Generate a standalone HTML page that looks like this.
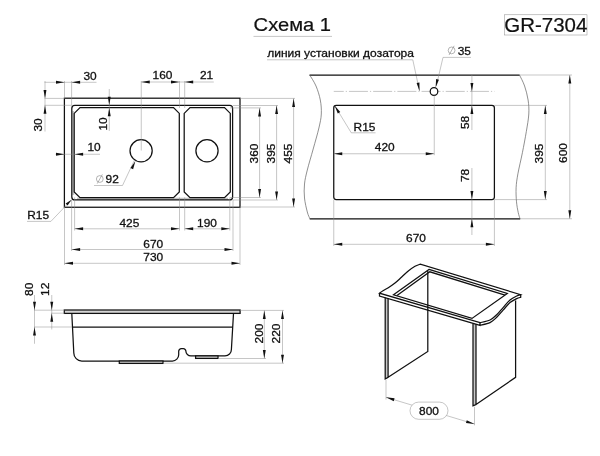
<!DOCTYPE html>
<html><head><meta charset="utf-8"><title>GR-7304</title>
<style>
html,body{margin:0;padding:0;background:#fff;}
svg{display:block;filter:grayscale(1)}
text{font-family:"Liberation Sans",sans-serif;fill:#111;}
text{stroke:#111;stroke-width:0.2px;}
text.s{stroke:#111;stroke-width:0.3px;}
.t{stroke:#8c8c8c;stroke-width:0.5;}
.t2{stroke:#777;stroke-width:0.55;fill:none}
.t3{stroke:#606060;stroke-width:0.7;}
.k{stroke:#111;stroke-width:1.25;}
.a{fill:#111;stroke:none}
</style></head><body>
<svg width="600" height="456" viewBox="0 0 600 456">
<rect width="600" height="456" fill="#fff"/>
<text font-size="19.2" text-anchor="start" transform="translate(253.6 31.4) scale(1.05 1)">Схема 1</text>
<line class="t" x1="253.5" y1="36.4" x2="332" y2="36.4"/>
<rect class="t" x="504.4" y="14.8" width="82.6" height="20.2" fill="none"/>
<text font-size="19.5" text-anchor="start" transform="translate(504.3 31.6) scale(1.05 1)">GR-7304</text>
<text class="s" font-size="11.3" text-anchor="start" transform="translate(267.2 56.5) scale(1.065 1)">линия установки дозатора</text>
<line class="t" x1="267" y1="59.8" x2="412.8" y2="59.8"/>
<line class="t" x1="412.8" y1="59.8" x2="419.5" y2="91"/>
<polygon class="a" points="419.50,91.00 416.60,82.88 419.45,82.38"/>
<rect x="72.3" y="111" width="1.9" height="84" fill="#c4c4c4"/>
<rect x="77" y="197.7" width="151" height="2.2" fill="#c4c4c4"/>
<rect class="k" x="64.4" y="98.2" width="175.6" height="109.05" fill="none"/>
<rect class="k" stroke-width="1.25" x="71.8" y="105.4" width="160.8" height="94.5" rx="3" fill="none"/>
<path class="k" stroke-width="1.1" fill="none" d="M80.0,107.6 L173.5,107.6 L179.3,113.39999999999999 L179.3,191.89999999999998 L173.5,197.7 L80.0,197.7 L74.2,191.89999999999998 L74.2,113.39999999999999 Z"/>
<path class="k" stroke-width="1.1" fill="none" d="M190.0,107.6 L224.5,107.6 L230.3,113.39999999999999 L230.3,191.89999999999998 L224.5,197.7 L190.0,197.7 L184.2,191.89999999999998 L184.2,113.39999999999999 Z"/>
<circle class="k" cx="141.1" cy="150.8" r="11.1" fill="none"/>
<circle class="k" cx="207" cy="150.8" r="11.1" fill="none"/>
<line class="t" x1="44.5" y1="82.3" x2="96.5" y2="82.3"/>
<line class="t" x1="64.5" y1="81" x2="64.5" y2="98.4"/>
<line class="t" x1="71.6" y1="81" x2="71.6" y2="105.3"/>
<polygon class="a" points="64.50,82.30 56.00,83.75 56.00,80.85"/>
<polygon class="a" points="71.60,82.30 80.10,80.85 80.10,83.75"/>
<text class="s" font-size="11.3" text-anchor="middle" transform="translate(90 79.8) scale(1.055 1)">30</text>
<line class="t" x1="141.25" y1="82" x2="213.75" y2="82"/>
<line class="t" x1="141.25" y1="81" x2="141.25" y2="150.5"/>
<line class="t" x1="179.5" y1="81" x2="179.5" y2="108"/>
<line class="t" x1="184.7" y1="81" x2="184.7" y2="108"/>
<polygon class="a" points="141.25,82.00 149.75,80.55 149.75,83.45"/>
<polygon class="a" points="179.50,82.00 171.00,83.45 171.00,80.55"/>
<polygon class="a" points="184.70,82.00 193.20,80.55 193.20,83.45"/>
<text class="s" font-size="11.3" text-anchor="middle" transform="translate(162.5 79.3) scale(1.055 1)">160</text>
<text class="s" font-size="11.3" text-anchor="middle" transform="translate(206.5 79.3) scale(1.055 1)">21</text>
<line class="t" x1="45" y1="81" x2="45" y2="131.5"/>
<line class="t" x1="44.5" y1="98.4" x2="64.5" y2="98.4"/>
<line class="t" x1="44.5" y1="105.3" x2="72" y2="105.3"/>
<polygon class="a" points="45.00,98.40 43.55,89.90 46.45,89.90"/>
<polygon class="a" points="45.00,105.30 46.45,113.80 43.55,113.80"/>
<text class="s" font-size="11.3" text-anchor="middle" transform="translate(41.5 125) rotate(-90) scale(1.055 1)">30</text>
<line class="t" x1="109.25" y1="89" x2="109.25" y2="131"/>
<polygon class="a" points="109.25,105.30 107.80,96.80 110.70,96.80"/>
<polygon class="a" points="109.25,107.80 110.70,116.30 107.80,116.30"/>
<text class="s" font-size="11.3" text-anchor="middle" transform="translate(107 124) rotate(-90) scale(1.055 1)">10</text>
<line class="t" x1="55.5" y1="154.25" x2="100" y2="154.25"/>
<polygon class="a" points="64.50,154.25 56.00,155.70 56.00,152.80"/>
<polygon class="a" points="74.60,154.25 83.10,152.80 83.10,155.70"/>
<text class="s" font-size="11.3" text-anchor="middle" transform="translate(94 151.3) scale(1.055 1)">10</text>
<line class="t" x1="94" y1="185.5" x2="122.5" y2="185.5"/>
<line class="t" x1="122.5" y1="185.5" x2="134.5" y2="160"/>
<polygon class="a" points="135.40,160.90 133.12,169.22 130.49,167.99"/>
<circle class="t2" cx="99.8" cy="179" r="3.4"/>
<line class="t2" x1="97.25" y1="183.59" x2="102.35" y2="174.41"/>
<text class="s" font-size="11.3" text-anchor="middle" transform="translate(112.2 182.9) scale(1.055 1)">92</text>
<text class="s" font-size="11.3" text-anchor="middle" transform="translate(38.1 219.0) scale(1.055 1)">R15</text>
<line class="t" x1="27" y1="221.4" x2="50.9" y2="221.4"/>
<line class="t" x1="50.9" y1="221.4" x2="67.3" y2="204.2"/>
<polygon class="a" points="71.90,199.40 67.51,205.51 65.64,203.57"/>
<line class="t" x1="74.6" y1="197.4" x2="74.6" y2="230.5"/>
<line class="t" x1="179.5" y1="197.4" x2="179.5" y2="230.5"/>
<line class="t" x1="184.7" y1="197.4" x2="184.7" y2="230.5"/>
<line class="t" x1="229.8" y1="197.4" x2="229.8" y2="230.5"/>
<line class="t" x1="74.6" y1="228.8" x2="179.5" y2="228.8"/>
<polygon class="a" points="74.60,228.80 83.10,227.35 83.10,230.25"/>
<polygon class="a" points="179.50,228.80 171.00,230.25 171.00,227.35"/>
<line class="t" x1="184.7" y1="228.8" x2="229.8" y2="228.8"/>
<polygon class="a" points="184.70,228.80 193.20,227.35 193.20,230.25"/>
<polygon class="a" points="229.80,228.80 221.30,230.25 221.30,227.35"/>
<text class="s" font-size="11.3" text-anchor="middle" transform="translate(129.4 227.0) scale(1.055 1)">425</text>
<text class="s" font-size="11.3" text-anchor="middle" transform="translate(207 227.0) scale(1.055 1)">190</text>
<line class="t" x1="71.6" y1="200" x2="71.6" y2="251"/>
<line class="t" x1="233" y1="200" x2="233" y2="251"/>
<line class="t" x1="71.6" y1="249.5" x2="233" y2="249.5"/>
<polygon class="a" points="71.60,249.50 80.10,248.05 80.10,250.95"/>
<polygon class="a" points="233.00,249.50 224.50,250.95 224.50,248.05"/>
<text class="s" font-size="11.3" text-anchor="middle" transform="translate(153.3 247.8) scale(1.055 1)">670</text>
<line class="t" x1="64.5" y1="207" x2="64.5" y2="265"/>
<line class="t" x1="240" y1="207" x2="240" y2="265"/>
<line class="t" x1="64.5" y1="263.3" x2="240" y2="263.3"/>
<polygon class="a" points="64.50,263.30 73.00,261.85 73.00,264.75"/>
<polygon class="a" points="240.00,263.30 231.50,264.75 231.50,261.85"/>
<text class="s" font-size="11.3" text-anchor="middle" transform="translate(153.3 261.0) scale(1.055 1)">730</text>
<line class="t" x1="240" y1="98.4" x2="295" y2="98.4"/>
<line class="t" x1="240" y1="207" x2="295" y2="207"/>
<line class="t" x1="293.6" y1="98.4" x2="293.6" y2="207"/>
<polygon class="a" points="293.60,98.40 295.05,106.90 292.15,106.90"/>
<polygon class="a" points="293.60,207.00 292.15,198.50 295.05,198.50"/>
<text class="s" font-size="11.3" text-anchor="middle" transform="translate(291.5 153.5) rotate(-90) scale(1.055 1)">455</text>
<line class="t" x1="233" y1="105.5" x2="278" y2="105.5"/>
<line class="t" x1="233" y1="200" x2="278" y2="200"/>
<line class="t" x1="276.6" y1="105.5" x2="276.6" y2="200"/>
<polygon class="a" points="276.60,105.50 278.05,114.00 275.15,114.00"/>
<polygon class="a" points="276.60,200.00 275.15,191.50 278.05,191.50"/>
<text class="s" font-size="11.3" text-anchor="middle" transform="translate(274.5 153.5) rotate(-90) scale(1.055 1)">395</text>
<line class="t" x1="230" y1="107.9" x2="261" y2="107.9"/>
<line class="t" x1="230" y1="197.5" x2="261" y2="197.5"/>
<line class="t" x1="259.6" y1="107.9" x2="259.6" y2="197.5"/>
<polygon class="a" points="259.60,107.90 261.05,116.40 258.15,116.40"/>
<polygon class="a" points="259.60,197.50 258.15,189.00 261.05,189.00"/>
<text class="s" font-size="11.3" text-anchor="middle" transform="translate(258 153.5) rotate(-90) scale(1.055 1)">360</text>
<line class="k" x1="309.5" y1="75" x2="519.7" y2="75"/>
<line class="k" x1="309.7" y1="218.75" x2="520.2" y2="218.75"/>
<path class="t3" fill="none" d="M309.70,75.00 C310.75,76.83 314.23,81.83 316.00,86.00 C317.77,90.17 319.42,95.33 320.30,100.00 C321.18,104.67 321.53,109.33 321.30,114.00 C321.07,118.67 320.25,122.17 318.90,128.00 C317.55,133.83 315.13,142.00 313.20,149.00 C311.27,156.00 308.75,164.17 307.30,170.00 C305.85,175.83 304.97,179.33 304.50,184.00 C304.03,188.67 304.03,193.33 304.50,198.00 C304.97,202.67 306.40,208.54 307.30,212.00 C308.20,215.46 309.47,217.62 309.90,218.75"/>
<path class="t3" fill="none" d="M519.50,75.00 C520.35,76.83 523.17,81.83 524.60,86.00 C526.03,90.17 527.40,95.33 528.10,100.00 C528.80,104.67 529.10,108.72 528.80,114.00 C528.50,119.28 527.37,125.25 526.30,131.70 C525.23,138.15 523.80,145.68 522.40,152.70 C521.00,159.72 518.95,167.95 517.90,173.80 C516.85,179.65 516.33,183.13 516.10,187.80 C515.87,192.47 516.15,197.70 516.50,201.80 C516.85,205.90 517.62,209.58 518.20,212.40 C518.78,215.22 519.70,217.69 520.00,218.75"/>
<rect class="k" x="333.75" y="105.4" width="160.65" height="94.2" rx="2.5" fill="none"/>
<line class="t" stroke-dasharray="19 2 1.2 2" stroke-dashoffset="9" x1="333.75" y1="91.4" x2="494.5" y2="91.4"/>
<circle class="k" cx="434" cy="91.5" r="3.8" fill="#fff"/>
<line class="t" x1="443" y1="57.4" x2="471" y2="57.4"/>
<line class="t" x1="443" y1="57.4" x2="436.3" y2="86"/>
<polygon class="a" points="435.60,87.60 436.10,78.99 438.92,79.64"/>
<circle class="t2" cx="451.6" cy="50.4" r="3.4"/>
<line class="t2" x1="449.05" y1="54.989999999999995" x2="454.15000000000003" y2="45.81"/>
<text class="s" font-size="11.3" text-anchor="middle" transform="translate(464.3 55.1) scale(1.055 1)">35</text>
<line class="t" x1="351.25" y1="132.8" x2="375.5" y2="132.8"/>
<line class="t" x1="351.25" y1="132.8" x2="335.3" y2="106.6"/>
<polygon class="a" points="334.60,105.60 340.25,112.11 337.78,113.62"/>
<text class="s" font-size="11.3" text-anchor="middle" transform="translate(364.5 131.05) scale(1.055 1)">R15</text>
<line class="t" x1="333.75" y1="153.75" x2="434.25" y2="153.75"/>
<polygon class="a" points="333.75,153.75 342.25,152.30 342.25,155.20"/>
<polygon class="a" points="434.25,153.75 425.75,155.20 425.75,152.30"/>
<line class="t" x1="434.25" y1="95.5" x2="434.25" y2="155.2"/>
<text class="s" font-size="11.3" text-anchor="middle" transform="translate(384.75 151.05) scale(1.055 1)">420</text>
<line class="t" x1="471.9" y1="75" x2="471.9" y2="130"/>
<polygon class="a" points="471.90,91.40 470.45,82.90 473.35,82.90"/>
<polygon class="a" points="471.90,105.40 473.35,113.90 470.45,113.90"/>
<text class="s" font-size="11.3" text-anchor="middle" transform="translate(469 122.4) rotate(-90) scale(1.055 1)">58</text>
<line class="t" x1="471.9" y1="168" x2="471.9" y2="235"/>
<polygon class="a" points="471.90,199.60 470.45,191.10 473.35,191.10"/>
<polygon class="a" points="471.90,218.75 473.35,227.25 470.45,227.25"/>
<text class="s" font-size="11.3" text-anchor="middle" transform="translate(469 175.5) rotate(-90) scale(1.055 1)">78</text>
<line class="t" x1="494.4" y1="105.4" x2="547" y2="105.4"/>
<line class="t" x1="494.4" y1="199.6" x2="547" y2="199.6"/>
<line class="t" x1="545.3" y1="105.4" x2="545.3" y2="199.6"/>
<polygon class="a" points="545.30,105.40 546.75,113.90 543.85,113.90"/>
<polygon class="a" points="545.30,199.60 543.85,191.10 546.75,191.10"/>
<text class="s" font-size="11.3" text-anchor="middle" transform="translate(542.8 153.5) rotate(-90) scale(1.055 1)">395</text>
<line class="t" x1="520" y1="75" x2="572" y2="75"/>
<line class="t" x1="520" y1="218.75" x2="572" y2="218.75"/>
<line class="t" x1="569.8" y1="75" x2="569.8" y2="218.75"/>
<polygon class="a" points="569.80,75.00 571.25,83.50 568.35,83.50"/>
<polygon class="a" points="569.80,218.75 568.35,210.25 571.25,210.25"/>
<text class="s" font-size="11.3" text-anchor="middle" transform="translate(567.4 153) rotate(-90) scale(1.055 1)">600</text>
<line class="t" x1="333.75" y1="199.6" x2="333.75" y2="246"/>
<line class="t" x1="494.4" y1="199.6" x2="494.4" y2="246"/>
<line class="t" x1="333.75" y1="244.3" x2="494.4" y2="244.3"/>
<polygon class="a" points="333.75,244.30 342.25,242.85 342.25,245.75"/>
<polygon class="a" points="494.40,244.30 485.90,245.75 485.90,242.85"/>
<text class="s" font-size="11.3" text-anchor="middle" transform="translate(416 241.55) scale(1.055 1)">670</text>
<rect class="k" x="64.3" y="310" width="175.8" height="3.4" fill="#d4d4d4" stroke-width="0.95"/>
<path class="k" stroke-width="1.2" fill="none" d="M71.8,313.5 L73.8,353 A8,8 0 0 0 81.8,361 L172.4,361 A6.3,6.3 0 0 0 178.7,354.7 L178.7,351.3 A2.6,2.6 0 0 1 181.3,348.7 L183.3,348.7 A2.6,2.6 0 0 1 185.9,351.3 A5,4.6 0 0 0 190.9,355.9 L225,355.9 A6.4,6.4 0 0 0 231.4,349.5 L233.5,313.5"/>
<line class="k" x1="72.5" y1="327.1" x2="232.7" y2="327.1" stroke-width="1.05"/>
<rect class="k" x="119.3" y="361" width="43.7" height="2.4" fill="#d4d4d4" stroke-width="0.9"/>
<rect class="k" x="195.6" y="355.9" width="22.4" height="2.5" fill="#d4d4d4" stroke-width="0.9"/>
<line class="t" x1="34.5" y1="295" x2="34.5" y2="343.75"/>
<line class="t" x1="51.75" y1="295" x2="51.75" y2="329.5"/>
<line class="t" x1="34" y1="310.2" x2="64.5" y2="310.2"/>
<line class="t" x1="51" y1="313.2" x2="64.5" y2="313.2"/>
<line class="t" x1="34" y1="327" x2="72" y2="327"/>
<polygon class="a" points="34.50,310.20 33.05,301.70 35.95,301.70"/>
<polygon class="a" points="34.50,327.00 35.95,335.50 33.05,335.50"/>
<polygon class="a" points="51.75,310.20 50.30,301.70 53.20,301.70"/>
<polygon class="a" points="51.75,313.20 53.20,321.70 50.30,321.70"/>
<text class="s" font-size="11.3" text-anchor="middle" transform="translate(32.5 289.3) rotate(-90) scale(1.055 1)">80</text>
<text class="s" font-size="11.3" text-anchor="middle" transform="translate(48.75 289.3) rotate(-90) scale(1.055 1)">12</text>
<line class="t" x1="240" y1="310.4" x2="284" y2="310.4"/>
<line class="t" x1="218" y1="358.5" x2="266" y2="358.5"/>
<line class="t" x1="163" y1="363.2" x2="284" y2="363.2"/>
<line class="t" x1="264.3" y1="310.4" x2="264.3" y2="358.5"/>
<polygon class="a" points="264.30,310.40 265.75,318.90 262.85,318.90"/>
<polygon class="a" points="264.30,358.50 262.85,350.00 265.75,350.00"/>
<line class="t" x1="282.5" y1="310.4" x2="282.5" y2="363.2"/>
<polygon class="a" points="282.50,310.40 283.95,318.90 281.05,318.90"/>
<polygon class="a" points="282.50,363.20 281.05,354.70 283.95,354.70"/>
<text class="s" font-size="11.3" text-anchor="middle" transform="translate(262.7 333.5) rotate(-90) scale(1.055 1)">200</text>
<text class="s" font-size="11.3" text-anchor="middle" transform="translate(280.2 333.5) rotate(-90) scale(1.055 1)">220</text>
<path d="M385.2,297.5 L385.2,379 L388.1,377.3 L388.1,298.3 Z" fill="#c8c8c8"/>
<path class="k" stroke-width="1.05" fill="none" d="M385.2,297.5 L385.2,379 L388.1,377.3 L388.1,298.3 M388.1,377.3 L427.8,351.4 L427.8,271"/>
<path d="M473,323.4 L473,405.9 L476,404.6 L476,324.3 Z" fill="#c8c8c8"/>
<path class="k" stroke-width="1.05" fill="none" d="M473,323.4 L473,405.9 L476,404.6 L476,324.3 M476,404.6 L515.6,377.3 L515.6,300.5"/>
<path class="k" stroke-width="1" fill="none" d="M420.30,264.10 C419.42,264.47 417.00,265.15 415.00,266.30 C413.00,267.45 410.52,269.22 408.30,271.00 C406.08,272.78 403.92,275.00 401.70,277.00 C399.48,279.00 397.23,281.22 395.00,283.00 C392.77,284.78 390.30,286.42 388.30,287.70 C386.30,288.98 384.47,289.78 383.00,290.70 C381.53,291.62 380.08,292.78 379.50,293.20 L480,322.7  C481.67,322.25 487.22,321.33 490.00,320.00 C492.78,318.67 494.48,316.82 496.70,314.70 C498.92,312.58 501.08,309.75 503.30,307.30 C505.52,304.85 507.77,301.88 510.00,300.00 C512.23,298.12 514.92,296.88 516.70,296.00 C518.48,295.12 520.03,294.92 520.70,294.70 Z"/>
<path class="k" stroke-width="1" fill="none" d="M379.5,293.2 L379.5,296 L480,325.4 L480,322.7 M480.00,325.30 C481.67,324.85 487.22,323.93 490.00,322.60 C492.78,321.27 494.48,319.42 496.70,317.30 C498.92,315.18 501.08,312.35 503.30,309.90 C505.52,307.45 507.77,304.48 510.00,302.60 C512.23,300.72 514.92,299.48 516.70,298.60 C518.48,297.72 520.03,297.52 520.70,297.30 L520.7,294.7"/>
<path class="k" stroke-width="1" fill="none" d="M429,269.4 L507.3,293.5 L472,318.4 L393.5,294.8 Z"/>
<path class="k" stroke-width="0.9" fill="none" d="M397,295.6 L429.8,271.8 L505.0,295.1"/>
<line class="t" x1="386" y1="380" x2="386" y2="399.5"/>
<line class="t" x1="474.5" y1="406.7" x2="474.5" y2="425.3"/>
<line class="t" x1="386" y1="397.3" x2="474.5" y2="424"/>
<polygon class="a" points="386.00,397.30 394.56,398.37 393.72,401.14"/>
<polygon class="a" points="474.50,424.00 465.94,422.93 466.78,420.16"/>
<rect class="t" x="410" y="402.1" width="38" height="17.2" rx="8.6" fill="#fff"/>
<text class="s" font-size="11.3" text-anchor="middle" transform="translate(429 415.0) scale(1.055 1)">800</text>
</svg>
</body></html>
